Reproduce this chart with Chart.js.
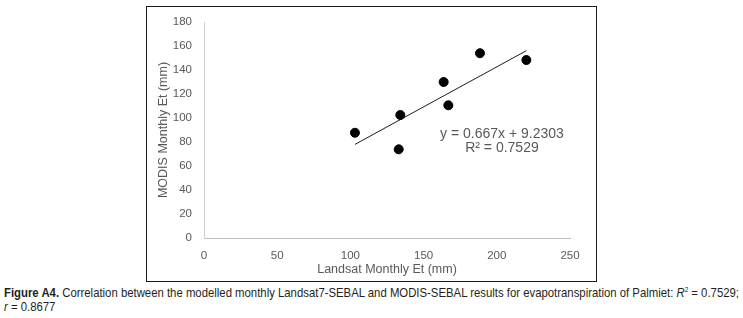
<!DOCTYPE html>
<html>
<head>
<meta charset="utf-8">
<script src="https://cdn.jsdelivr.net/npm/chart.js@4/dist/chart.umd.min.js"></script>
<style>
  html, body { margin: 0; padding: 0; background: #fff; }
  body { width: 743px; height: 318px; position: relative; overflow: hidden; }
  #box { position: absolute; left: 146px; top: 6px; width: 449px; height: 274px; border: 1.5px solid #1a1a1a; }
  #wrap { position: absolute; left: 147px; top: 7px; width: 450px; height: 275px; }
  #caption { position: absolute; left: 4px; top: 286px; font-family: "Liberation Sans", Arial, sans-serif; font-size: 13.5px; line-height: 14px; color: #231f20; transform-origin: 0 0; white-space: nowrap; }
  #caption b { font-weight: bold; }
  #caption sup { font-size: 7.5px; vertical-align: 5px; line-height: 0; }
</style>
</head>
<body>
<div id="box"></div>
<div id="wrap"><canvas id="c" width="450" height="275"></canvas></div>
<div id="caption"><span id="l1"><b>Figure A4.</b> Correlation between the modelled monthly Landsat7-SEBAL and MODIS-SEBAL results for evapotranspiration of Palmiet: <i>R</i><sup>2</sup> = 0.7529;</span><br><span><i>r</i> = 0.8677</span></div>
<script>
const landsatEt = [103.1, 133.0, 134.1, 163.7, 166.9, 188.5, 220.2];
const modisEt   = [87.7, 73.9, 102.5, 130.0, 110.6, 154.0, 148.3];
const trendX = [103.1, 220.2];
const trendY = [78.0, 156.1];
const equationLines = ["y = 0.667x + 9.2303", "R\u00B2 = 0.7529"];
const xTitle = "Landsat Monthly Et (mm)";
const yTitle = "MODIS Monthly Et (mm)";

// fit caption first line to page width
(function () {
  const cap = document.getElementById('caption');
  const w = document.getElementById('l1').getBoundingClientRect().width;
  const s = 735 / w;
  cap.style.transform = 'scaleX(' + s + ')';
})();

const gray = "#595959";
const font = "'Liberation Sans', Arial, sans-serif";

const eqPlugin = {
  id: 'eq',
  afterDatasetsDraw(chart) {
    const {ctx, scales} = chart;
    const x = scales.x.getPixelForValue(203.5);
    const y1 = scales.y.getPixelForValue(86.7);
    const y2 = scales.y.getPixelForValue(75);
    ctx.save();
    ctx.fillStyle = gray;
    ctx.font = "14px " + font;
    ctx.textAlign = "center";
    ctx.textBaseline = "middle";
    ctx.fillText(equationLines[0], x, y1);
    ctx.fillText(equationLines[1], x, y2);
    ctx.restore();
  }
};

new Chart(document.getElementById('c'), {
  type: 'scatter',
  data: {
    datasets: [
      {
        type: 'scatter',
        data: landsatEt.map((v, i) => ({x: v, y: modisEt[i]})),
        backgroundColor: '#000',
        borderColor: '#000',
        pointRadius: 4.5,
        pointHoverRadius: 4.5,
        order: 1
      },
      {
        type: 'line',
        data: trendX.map((v, i) => ({x: v, y: trendY[i]})),
        borderColor: '#000',
        borderWidth: 0.9,
        pointRadius: 0,
        fill: false,
        order: 2
      }
    ]
  },
  options: {
    responsive: false,
    animation: false,
    events: [],
    layout: { padding: { left: 9, right: 27, top: 15, bottom: 5 } },
    plugins: { legend: { display: false }, tooltip: { enabled: false } },
    scales: {
      x: {
        type: 'linear', min: 0, max: 250,
        ticks: { stepSize: 50, color: gray, font: { family: font, size: 11.5 }, padding: 3 },
        grid: { display: false },
        border: { display: true, color: '#bfbfbf', width: 1 },
        title: { display: true, text: xTitle, color: gray, font: { family: font, size: 12.5 }, padding: { top: 0, bottom: 0 } },
        afterFit(s) { s.height = 39; }
      },
      y: {
        type: 'linear', min: 0, max: 180,
        ticks: { stepSize: 20, color: gray, font: { family: font, size: 11.5 }, padding: 4 },
        grid: { display: false },
        border: { display: true, color: '#d0d0d0', width: 1 },
        title: { display: true, text: yTitle, color: gray, font: { family: font, size: 12.5 }, padding: { top: 0, bottom: 0 } },
        afterFit(s) { s.width = 48; }
      }
    }
  },
  plugins: [eqPlugin]
});
</script>
</body>
</html>
